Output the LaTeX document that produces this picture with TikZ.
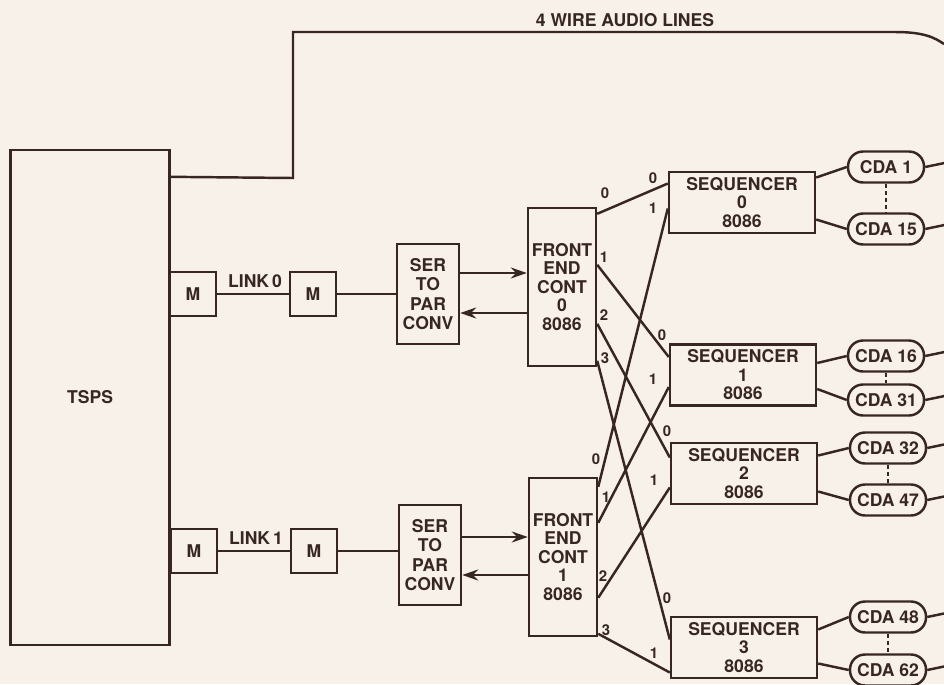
\documentclass[tikz,border=0pt]{standalone}
\usepackage{fontspec}
\setmainfont{TeX Gyre Heros}
\usepackage{xcolor}
\usepackage{tikz}
\usetikzlibrary{arrows.meta,positioning,calc}
\definecolor{paper}{RGB}{248,241,234}
\definecolor{ink}{RGB}{56,38,34}

\begin{document}
\begin{tikzpicture}[
    x=0.02cm, y=-0.02cm,
    box/.style={draw=ink, line width=1.4pt, text=ink, font=\bfseries\fontsize{10}{10.5}\selectfont,
      align=center, inner sep=1pt},
    lbl/.style={text=ink, font=\bfseries\fontsize{10}{10.5}\selectfont, inner sep=1pt},
    port/.style={text=ink, font=\bfseries\fontsize{8.5}{8.5}\selectfont, inner sep=0.5pt},
    mbox/.style={box, minimum width=0.92cm, minimum height=0.88cm},
    conv/.style={box, minimum width=1.24cm, minimum height=2cm, font=\bfseries\fontsize{10}{11}\selectfont},
    fec/.style={box, minimum width=1.36cm, minimum height=3.16cm},
    seqbox/.style={box, minimum width=2.92cm, minimum height=1.22cm},
    cda/.style={box, rounded corners=0.3cm, minimum width=1.52cm, minimum height=0.62cm},
    wire/.style={draw=ink, line width=1.4pt},
    arr/.style={wire, -{Stealth[length=3.2mm, width=2.2mm]}},
  ]
    \path[use as bounding box, fill=paper] (0,0) rectangle (944,684);

    % TSPS and audio lines
    \node[box, minimum width=3.18cm, minimum height=9.9cm] (tsps) at (90,397.5) {TSPS};
    \coordinate (audioend) at (944,44);
    \draw[wire] ($(tsps.north east)+(0,28)$) -- (293,178) -- (293,32) -- (895,32)
      .. controls (925,32) and (935,38) .. (audioend);
    \node[lbl] (audiolbl) at (625,20) {4 WIRE AUDIO LINES};

    % Link 0
    \node[mbox] (m0a) at (193,294) {M};
    \node[mbox] (m0b) at (313,294) {M};
    \node[lbl] (link0) at (255,281) {LINK\,0};
    \node[conv] (ser0) at (428,294) {SER\\TO\\PAR\\CONV};
    \node[fec] (fec0) at (562,287) {FRONT\\END\\CONT\\0\\8086};
    \draw[wire] (m0a) -- (m0b);
    \draw[wire] (m0b) -- (m0b -| ser0.west);
    \draw[arr] ($(ser0.east)+(0,-21)$) -- ($(fec0.west)+(0,-14)$);
    \draw[arr] ($(fec0.west)+(0,26)$) -- ($(ser0.east)+(0,19)$);

    % Link 1
    \node[mbox] (m1a) at (194,551) {M};
    \node[mbox] (m1b) at (314,551) {M};
    \node[lbl] (link1) at (256,538) {LINK\,1};
    \node[conv] (ser1) at (430,555) {SER\\TO\\PAR\\CONV};
    \node[fec] (fec1) at (563,557) {FRONT\\END\\CONT\\1\\8086};
    \draw[wire] (m1a) -- (m1b);
    \draw[wire] (m1b) -- (m1b -| ser1.west);
    \draw[arr] ($(ser1.east)+(0,-18)$) -- ($(fec1.west)+(0,-20)$);
    \draw[arr] ($(fec1.west)+(0,18)$) -- ($(ser1.east)+(0,20)$);

    % Sequencers
    \node[seqbox] (seq0) at (742,202.5) {SEQUENCER\\0\\8086};
    \node[seqbox] (seq1) at (743,375) {SEQUENCER\\1\\8086};
    \node[seqbox] (seq2) at (744,473.5) {SEQUENCER\\2\\8086};
    \node[seqbox] (seq3) at (744,647.5) {SEQUENCER\\3\\8086};

    % Cross connections
    \draw[wire] ($(fec0.north east)+(0,7)$) -- ($(seq0.west)+(0,-19)$);
    \draw[wire] ($(fec0.north east)+(0,58)$) -- ($(seq1.west)+(0,-18)$);
    \draw[wire] ($(fec0.north east)+(0,117)$) -- ($(seq2.west)+(0,-16)$);
    \draw[wire] ($(fec0.north east)+(0,154)$) -- ($(seq3.west)+(0,-8)$);
    \draw[wire] ($(fec1.north east)+(0,10)$) -- ($(seq0.west)+(0,6)$);
    \draw[wire] ($(fec1.north east)+(0,46)$) -- ($(seq1.west)+(0,12)$);
    \draw[wire] ($(fec1.north east)+(0,121)$) -- ($(seq2.west)+(0,14)$);
    \draw[wire] ($(fec1.north east)+(0,157)$) -- ($(seq3.west)+(0,25)$);

    \node[port] (f0p0) at (605,193) {0};
    \node[port] (f0p1) at (604,257) {1};
    \node[port] (f0p2) at (604,315) {2};
    \node[port] (f0p3) at (605,358) {3};
    \node[port] (f1p0) at (596,459) {0};
    \node[port] (f1p1) at (606,497) {1};
    \node[port] (f1p2) at (603,576) {2};
    \node[port] (f1p3) at (606,630) {3};
    \node[port] (s0p0) at (653,178) {0};
    \node[port] (s0p1) at (653,208) {1};
    \node[port] (s1p0) at (662,335) {0};
    \node[port] (s1p1) at (653,379) {1};
    \node[port] (s2p0) at (667,431) {0};
    \node[port] (s2p1) at (654,480) {1};
    \node[port] (s3p0) at (667,598) {0};
    \node[port] (s3p1) at (654,653) {1};

    % CDAs
    \node[cda] (cda1) at (886,167) {CDA 1};
    \node[cda] (cda15) at (886,229) {CDA 15};
    \node[cda] (cda16) at (886,356) {CDA 16};
    \node[cda] (cda31) at (886,400) {CDA 31};
    \node[cda] (cda32) at (888,448) {CDA 32};
    \node[cda] (cda47) at (888,500) {CDA 47};
    \node[cda] (cda48) at (888,617) {CDA 48};
    \node[cda] (cda62) at (888,670) {CDA 62};

    \draw[wire] ($(seq0.east)+(0,-25)$) -- (cda1.west);
    \draw[wire] ($(seq0.east)+(0,17)$) -- (cda15.west);
    \draw[wire] ($(seq1.east)+(0,-12)$) -- (cda16.west);
    \draw[wire] ($(seq1.east)+(0,14)$) -- (cda31.west);
    \draw[wire] ($(seq2.east)+(0,-18)$) -- (cda32.west);
    \draw[wire] ($(seq2.east)+(0,18)$) -- (cda47.west);
    \draw[wire] ($(seq3.east)+(0,-18)$) -- (cda48.west);
    \draw[wire] ($(seq3.east)+(0,16)$) -- (cda62.west);

    \draw[wire, dash pattern=on 2.5pt off 1.5pt] (cda1) -- (cda15);
    \draw[wire, dash pattern=on 2.5pt off 1.5pt] (cda16) -- (cda31);
    \draw[wire, dash pattern=on 2.5pt off 1.5pt] (cda32) -- (cda47);
    \draw[wire, dash pattern=on 2.5pt off 1.5pt] (cda48) -- (cda62);

    \foreach \c in {cda1,cda15,cda16,cda31,cda32,cda47,cda48,cda62}
      \draw[wire] (\c.east) -- ++(24,-5);
  \end{tikzpicture}
\end{document}
